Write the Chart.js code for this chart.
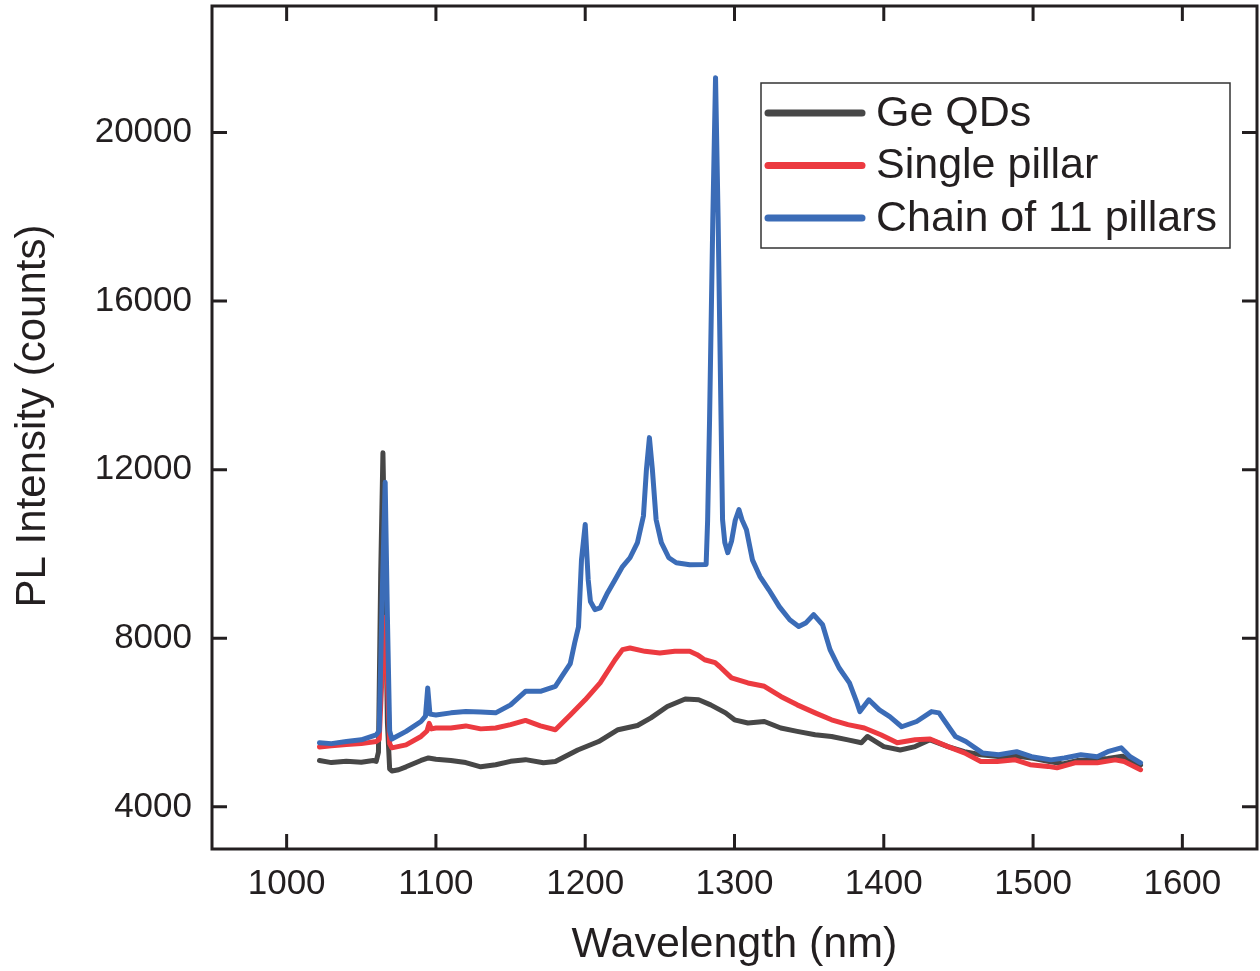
<!DOCTYPE html>
<html>
<head>
<meta charset="utf-8">
<script src="https://cdn.jsdelivr.net/npm/chart.js@4.4.0/dist/chart.umd.min.js"></script>
<style>
  body { margin: 0; background: #fff; }
</style>
</head>
<body>
<canvas id="grafico" width="1260" height="971"></canvas>
<script>
// valores (nm, counts)
var geWl = [1022, 1030, 1040, 1050, 1058, 1060, 1061.5, 1063, 1064.5, 1066, 1067.5, 1069, 1070.5, 1075, 1080, 1090, 1095, 1100, 1110, 1120, 1130, 1140, 1150, 1160, 1172, 1180, 1195, 1209, 1222, 1235, 1244, 1255, 1267, 1276, 1284, 1294, 1300, 1309, 1320, 1331, 1342, 1354, 1365, 1376, 1385, 1389, 1400, 1411, 1421, 1431, 1443, 1454, 1465, 1480, 1490, 1500, 1510, 1520, 1530, 1540, 1550, 1560, 1566, 1572];
var geCounts = [5100, 5050, 5080, 5060, 5100, 5080, 5300, 9500, 12400, 9500, 6000, 4900, 4850, 4880, 4950, 5100, 5160, 5130, 5100, 5050, 4950, 5000, 5080, 5120, 5045, 5075, 5350, 5550, 5830, 5930, 6110, 6380, 6560, 6540, 6420, 6230, 6065, 5990, 6025, 5870, 5790, 5710, 5670, 5590, 5520, 5670, 5430, 5350, 5430, 5590, 5430, 5310, 5235, 5180, 5200, 5150, 5080, 5020, 5100, 5120, 5150, 5200, 5100, 4990];

var singleWl = [1022, 1030, 1040, 1050, 1060, 1062, 1064, 1066, 1067.5, 1069, 1070.5, 1080, 1090, 1094, 1095.5, 1097, 1100, 1110, 1120, 1130, 1140, 1150, 1160, 1170, 1180, 1190, 1200, 1210, 1220, 1225, 1230, 1240, 1250, 1260, 1270, 1275, 1280, 1287, 1290, 1298, 1309, 1320, 1331, 1342, 1354, 1365, 1376, 1387, 1398, 1409, 1421, 1431, 1443, 1454, 1465, 1476, 1488, 1498, 1510, 1516, 1528, 1543, 1555, 1561, 1572];
var singleCounts = [5420, 5450, 5480, 5500, 5550, 5600, 7200, 8500, 7000, 5500, 5400, 5470, 5670, 5800, 5980, 5850, 5870, 5870, 5920, 5850, 5870, 5950, 6050, 5920, 5830, 6180, 6540, 6940, 7490, 7730, 7770, 7690, 7650, 7690, 7690, 7610, 7490, 7420, 7330, 7060, 6940, 6860, 6620, 6420, 6230, 6065, 5950, 5870, 5710, 5520, 5590, 5610, 5430, 5280, 5075, 5075, 5115, 5000, 4960, 4925, 5045, 5045, 5115, 5075, 4880];

var chainWl = [1022, 1030, 1040, 1050, 1060, 1062, 1064, 1066, 1067.5, 1069, 1070.5, 1080, 1090, 1093, 1094.5, 1096, 1100, 1110, 1120, 1130, 1140, 1150, 1160, 1170, 1180, 1185, 1190, 1193, 1195.5, 1197.5, 1200, 1202, 1203.5, 1206.5, 1210, 1215, 1220, 1225, 1230, 1235, 1239, 1241, 1243, 1245, 1247.5, 1251, 1256, 1261, 1270, 1281, 1282, 1283.3, 1285.5, 1287.3, 1289, 1291, 1292, 1293.5, 1295.5, 1298, 1300.5, 1303, 1305, 1308, 1312, 1317, 1323, 1330, 1337, 1343, 1348, 1353, 1359, 1364, 1370, 1377, 1382, 1384, 1390, 1397, 1404, 1412, 1422, 1432, 1437, 1444, 1448, 1455, 1466, 1477, 1489, 1499, 1512, 1521, 1532, 1543, 1550, 1559, 1565, 1572];
var chainCounts = [5520, 5500, 5550, 5590, 5710, 5800, 9000, 11700, 8500, 5800, 5610, 5790, 6025, 6150, 6820, 6200, 6180, 6230, 6260, 6250, 6230, 6420, 6740, 6740, 6860, 7130, 7400, 7900, 8270, 9860, 10700, 9390, 8870, 8680, 8720, 9080, 9390, 9700, 9910, 10270, 10900, 12000, 12760, 12000, 10810, 10270, 9910, 9790, 9745, 9750, 10800, 13190, 18000, 21300, 18000, 13190, 10810, 10270, 10030, 10300, 10800, 11050, 10810, 10575, 9860, 9470, 9150, 8750, 8440, 8280, 8370, 8560, 8320, 7730, 7300, 6940, 6470, 6260, 6540, 6300, 6140, 5900, 6025, 6260, 6230, 5870, 5670, 5550, 5280, 5235, 5310, 5190, 5115, 5160, 5235, 5190, 5310, 5400, 5190, 5045];

var xTicks = [1000, 1100, 1200, 1300, 1400, 1500, 1600];
var yTicks = [4000, 8000, 12000, 16000, 20000];

function pontos(wl, counts) {
  var lista = [];
  for (var i = 0; i < wl.length; i++) {
    lista.push({ x: wl[i], y: counts[i] });
  }
  return lista;
}

var fonte = "'Liberation Sans', Arial, sans-serif";

// moldura com ticks para dentro + legenda dentro da caixa + titulo do eixo y
var moldura = {
  id: 'moldura',
  afterDraw: function (chart) {
    var ctx = chart.ctx;
    var a = chart.chartArea;
    var sx = chart.scales.x;
    var sy = chart.scales.y;
    ctx.save();
    ctx.strokeStyle = '#231f20';
    ctx.lineWidth = 3;
    ctx.strokeRect(a.left, a.top, a.right - a.left, a.bottom - a.top);
    ctx.beginPath();
    xTicks.forEach(function (v) {
      var px = sx.getPixelForValue(v);
      ctx.moveTo(px, a.bottom); ctx.lineTo(px, a.bottom - 15);
      ctx.moveTo(px, a.top); ctx.lineTo(px, a.top + 15);
    });
    yTicks.forEach(function (v) {
      var py = sy.getPixelForValue(v);
      ctx.moveTo(a.left, py); ctx.lineTo(a.left + 15, py);
      ctx.moveTo(a.right, py); ctx.lineTo(a.right - 15, py);
    });
    ctx.stroke();

    // titulo y
    ctx.save();
    ctx.translate(33, 416);
    ctx.rotate(-Math.PI / 2);
    ctx.font = '42px ' + fonte;
    ctx.fillStyle = '#231f20';
    ctx.textAlign = 'center';
    ctx.textBaseline = 'middle';
    ctx.fillText('PL Intensity (counts)', 0, 0);
    ctx.restore();

    // legenda
    ctx.lineWidth = 1.5;
    ctx.strokeStyle = '#333';
    ctx.strokeRect(761, 83, 469, 165);
    var ordem = [2, 1, 0];
    ctx.font = '43px ' + fonte;
    ctx.textBaseline = 'middle';
    ctx.fillStyle = '#231f20';
    ordem.forEach(function (idx, i) {
      var ds = chart.data.datasets[idx];
      var y = 113 + i * 52.5;
      ctx.beginPath();
      ctx.lineCap = 'round';
      ctx.lineWidth = 7;
      ctx.strokeStyle = ds.borderColor;
      ctx.moveTo(768, y);
      ctx.lineTo(862, y);
      ctx.stroke();
      ctx.fillText(ds.label, 876, y + 1);
    });
    ctx.restore();
  }
};

var ctx = document.getElementById('grafico').getContext('2d');
var chart = new Chart(ctx, {
  type: 'line',
  data: {
    datasets: [{
      label: 'Chain of 11 pillars',
      data: pontos(chainWl, chainCounts),
      borderColor: '#3b6cb7',
      order: 1
    }, {
      label: 'Single pillar',
      data: pontos(singleWl, singleCounts),
      borderColor: '#ec3a40',
      order: 2
    }, {
      label: 'Ge QDs',
      data: pontos(geWl, geCounts),
      borderColor: '#474747',
      order: 3
    }]
  },
  options: {
    responsive: false,
    animation: false,
    layout: { padding: { left: 0, right: 3, top: 6, bottom: 0 } },
    elements: {
      line: { borderWidth: 5, tension: 0, borderJoinStyle: 'round', borderCapStyle: 'round', fill: false },
      point: { radius: 0 }
    },
    plugins: {
      legend: { display: false },
      tooltip: { enabled: false }
    },
    scales: {
      x: {
        type: 'linear',
        min: 950,
        max: 1650,
        grid: { display: false, drawTicks: false },
        border: { display: false },
        afterBuildTicks: function (scale) {
          scale.ticks = xTicks.map(function (v) { return { value: v }; });
        },
        afterFit: function (scale) {
          scale.height = 122;
          scale.paddingLeft = 0;
          scale.paddingRight = 0;
        },
        ticks: {
          color: '#231f20',
          padding: 14,
          maxRotation: 0,
          font: { family: fonte, size: 35 },
          callback: function (v) { return String(v); }
        },
        title: {
          display: true,
          text: 'Wavelength (nm)',
          color: '#231f20',
          font: { family: fonte, size: 43 },
          padding: { top: 0, bottom: 0 }
        }
      },
      y: {
        min: 3000,
        max: 23000,
        grid: { display: false, drawTicks: false },
        border: { display: false },
        afterBuildTicks: function (scale) {
          scale.ticks = yTicks.map(function (v) { return { value: v }; });
        },
        afterFit: function (scale) {
          scale.width = 212;
          scale.paddingTop = 0;
          scale.paddingBottom = 0;
        },
        ticks: {
          color: '#231f20',
          padding: 20,
          font: { family: fonte, size: 35 },
          callback: function (v) { return String(v); }
        }
      }
    }
  },
  plugins: [moldura]
});
</script>
</body>
</html>
